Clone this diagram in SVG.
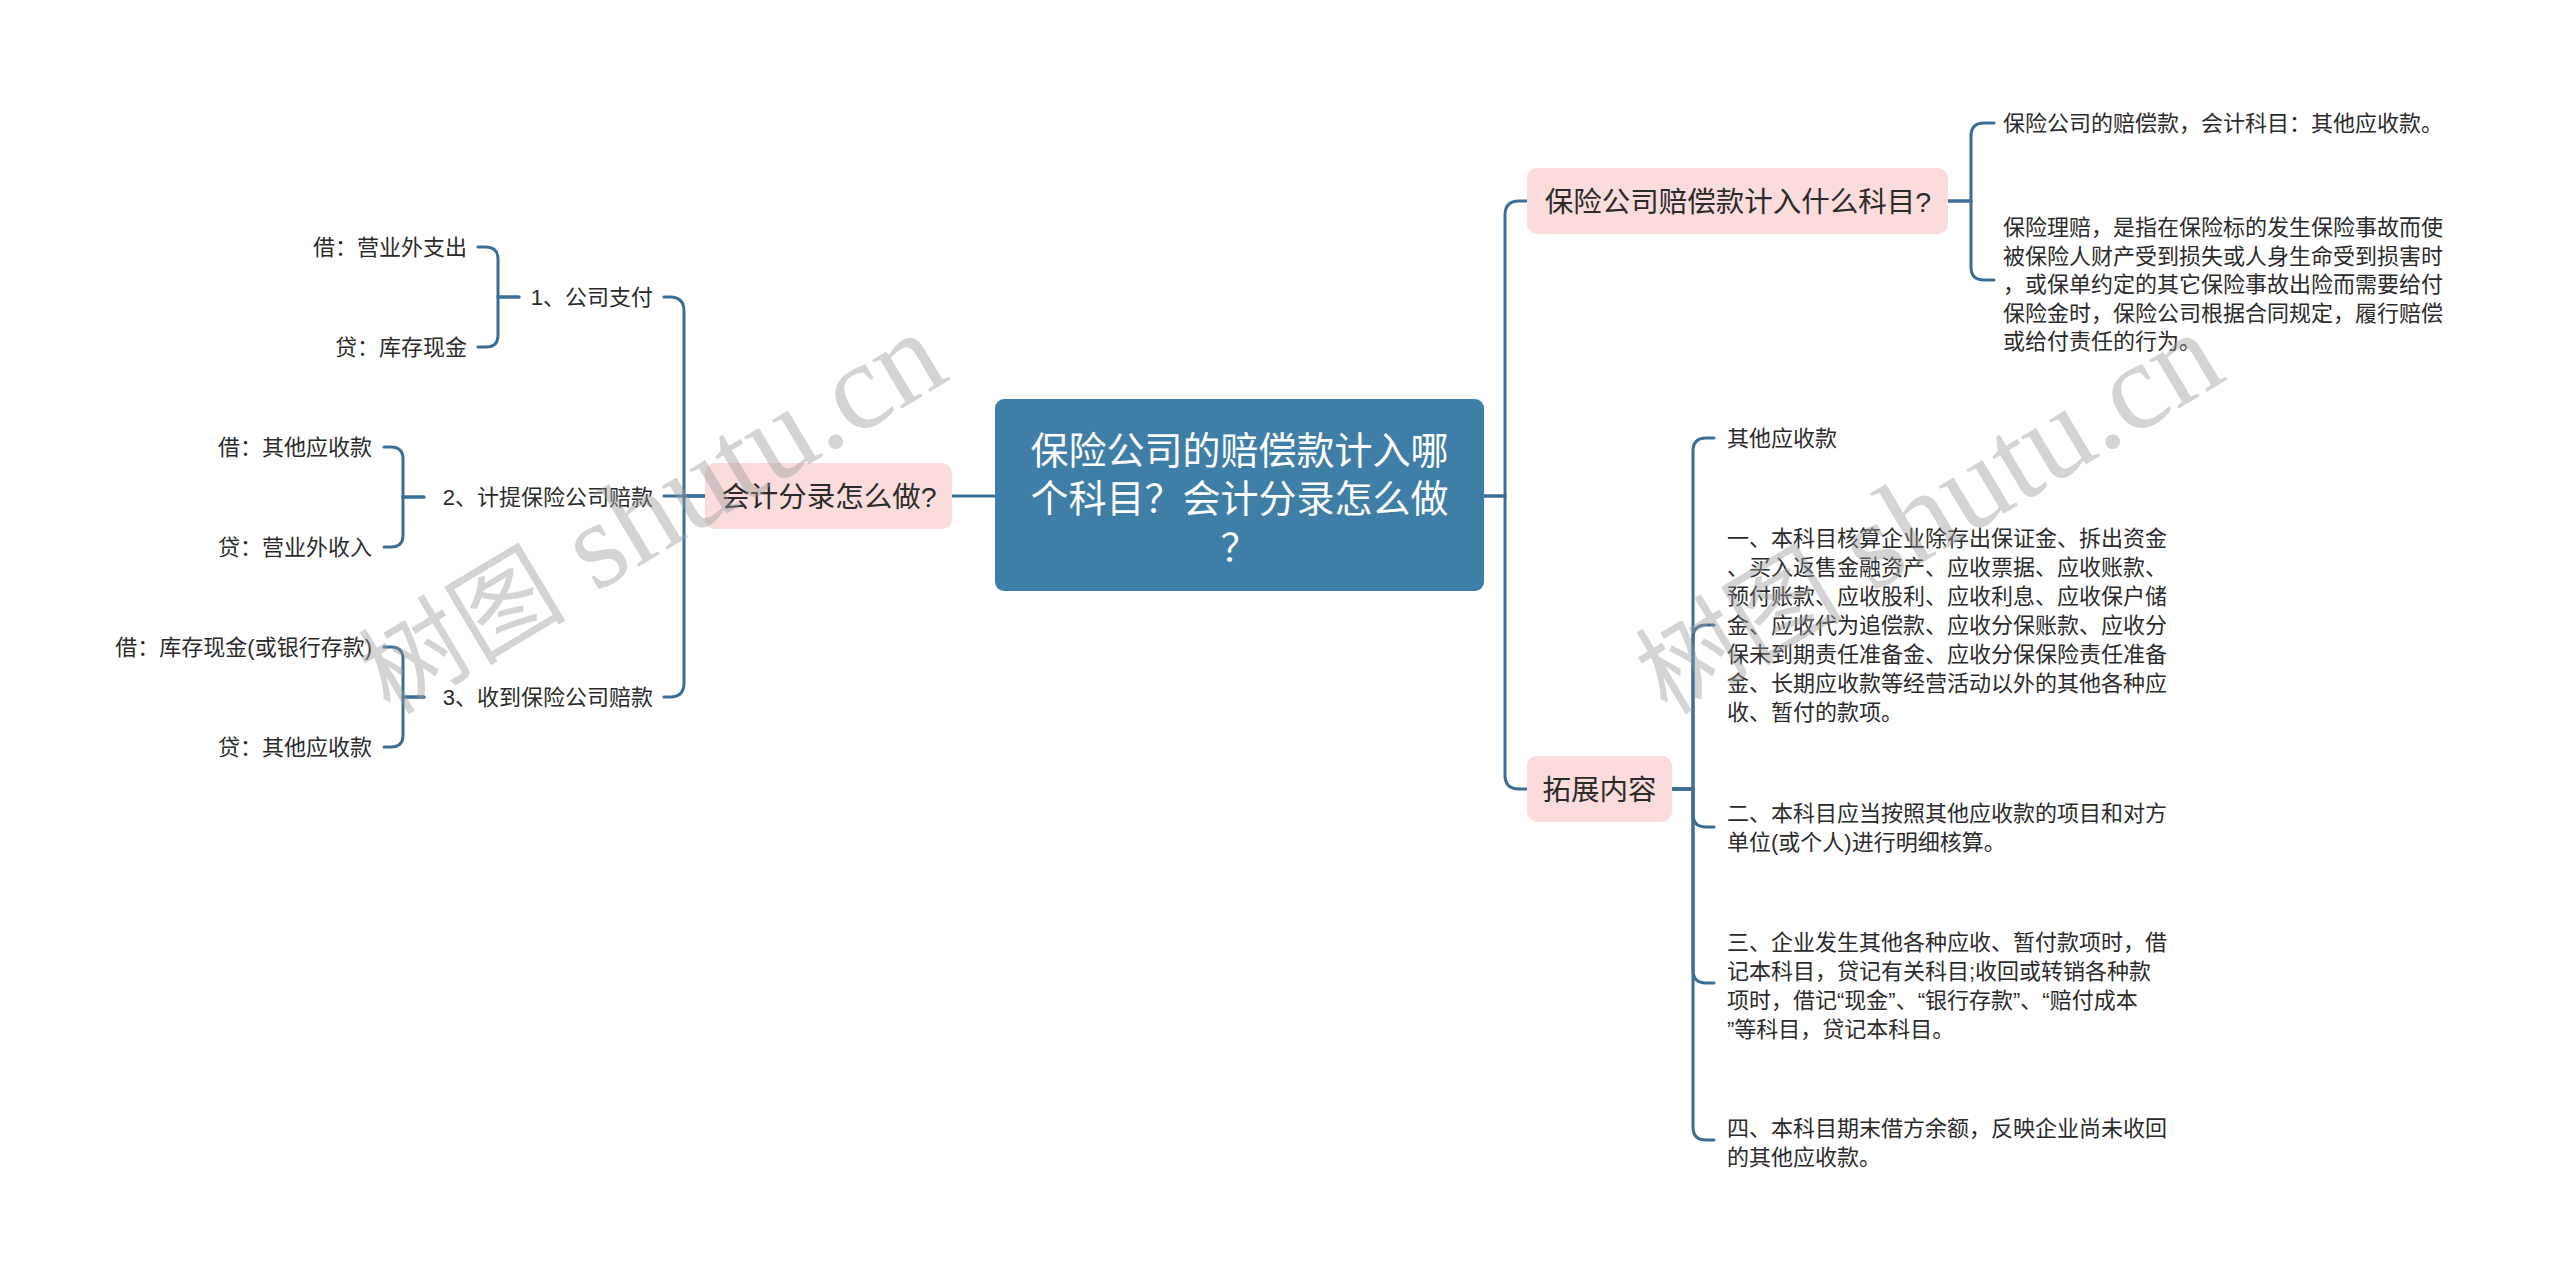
<svg xmlns="http://www.w3.org/2000/svg" width="2560" height="1279" viewBox="0 0 2560 1279">
<style>
.bg{fill:#ffffff}
.conn{fill:none;stroke:#3a6e96;stroke-width:3;stroke-linecap:round}
.root{fill:#3f7ea6}
.sub{fill:#fadcdc}
.t{font-family:"Liberation Sans","Noto Sans CJK SC",sans-serif;fill:#2b2b2b}
.leaf{font-size:22px}
.subt{font-size:28.5px;text-anchor:middle}
.roott{font-size:38px;fill:#ffffff;text-anchor:middle;font-family:"Noto Sans CJK SC",sans-serif}
.end{text-anchor:end}
.wm{font-family:"Liberation Serif","Noto Sans CJK SC",serif;font-size:124px;fill:#9a9a9a;opacity:0.42}
.wmc{font-size:104px}
</style>
<rect class="bg" x="0" y="0" width="2560" height="1279"/>
<g id="connectors">
<path class="conn" d="M994,496 H952"/>
<path class="conn" d="M705,496 H664"/>
<path class="conn" d="M705,496 H684 V311 Q684,297 670,297 H664"/>
<path class="conn" d="M705,496 H684 V683 Q684,697 670,697 H664"/>
<path class="conn" d="M519,297 H498 V259 Q498,247 486,247 H478"/>
<path class="conn" d="M519,297 H498 V335 Q498,347 486,347 H478"/>
<path class="conn" d="M424,497 H403 V459 Q403,447 391,447 H384"/>
<path class="conn" d="M424,497 H403 V535 Q403,547 391,547 H384"/>
<path class="conn" d="M424,697 H403 V659 Q403,647 391,647 H384"/>
<path class="conn" d="M424,697 H403 V735 Q403,747 391,747 H384"/>
<path class="conn" d="M1484,496 H1505 V215 Q1505,201 1519,201 H1527"/>
<path class="conn" d="M1484,496 H1505 V775 Q1505,789 1519,789 H1527"/>
<path class="conn" d="M1948,201 H1971 V136 Q1971,123 1984,123 H1994"/>
<path class="conn" d="M1948,201 H1971 V267 Q1971,280 1984,280 H1994"/>
<path class="conn" d="M1672,789 H1693 V451 Q1693,438 1706,438 H1714"/>
<path class="conn" d="M1672,789 H1693 V638 Q1693,625 1706,625 H1714"/>
<path class="conn" d="M1672,789 H1693 V814 Q1693,827 1706,827 H1714"/>
<path class="conn" d="M1672,789 H1693 V970 Q1693,983 1706,983 H1714"/>
<path class="conn" d="M1672,789 H1693 V1127 Q1693,1140 1706,1140 H1714"/>
</g>
<g id="root">
<rect class="root" x="995" y="399" width="489" height="192" rx="9"/>
<text class="roott" x="1239.5" y="464">保险公司的赔偿款计入哪</text>
<text class="roott" x="1239.5" y="512">个科目？会计分录怎么做</text>
<text class="roott" x="1239.5" y="561">？</text>
</g>
<g id="n-kuaiji">
<rect class="sub" x="705" y="463" width="247" height="66" rx="10"/>
<text class="t subt" x="829" y="507">会计分录怎么做?</text>
</g>
<g id="n-1">
<text class="t leaf end" x="653" y="305">1、公司支付</text>
</g>
<g id="n-1a"><text class="t leaf end" x="467" y="255">借：营业外支出</text></g>
<g id="n-1b"><text class="t leaf end" x="467" y="355">贷：库存现金</text></g>
<g id="n-2">
<text class="t leaf end" x="653" y="505">2、计提保险公司赔款</text>
</g>
<g id="n-2a"><text class="t leaf end" x="372" y="455">借：其他应收款</text></g>
<g id="n-2b"><text class="t leaf end" x="372" y="555">贷：营业外收入</text></g>
<g id="n-3">
<text class="t leaf end" x="653" y="705">3、收到保险公司赔款</text>
</g>
<g id="n-3a"><text class="t leaf end" x="372" y="655">借：库存现金(或银行存款)</text></g>
<g id="n-3b"><text class="t leaf end" x="372" y="755">贷：其他应收款</text></g>
<g id="n-kemu">
<rect class="sub" x="1527" y="168" width="421" height="66" rx="10"/>
<text class="t subt" x="1738" y="212">保险公司赔偿款计入什么科目?</text>
</g>
<g id="n-kemu-a"><text class="t leaf" x="2003" y="131">保险公司的赔偿款，会计科目：其他应收款。</text></g>
<g id="n-kemu-b">
<text class="t leaf" x="2003" y="235">保险理赔，是指在保险标的发生保险事故而使</text>
<text class="t leaf" x="2003" y="263.5">被保险人财产受到损失或人身生命受到损害时</text>
<text class="t leaf" x="2003" y="292">，或保单约定的其它保险事故出险而需要给付</text>
<text class="t leaf" x="2003" y="320.5">保险金时，保险公司根据合同规定，履行赔偿</text>
<text class="t leaf" x="2003" y="349">或给付责任的行为。</text>
</g>
<g id="n-tuozhan">
<rect class="sub" x="1527" y="756" width="145" height="66" rx="10"/>
<text class="t subt" x="1599.5" y="800">拓展内容</text>
</g>
<g id="n-tz-0"><text class="t leaf" x="1727" y="446">其他应收款</text></g>
<g id="n-tz-1">
<text class="t leaf" x="1727" y="546">一、本科目核算企业除存出保证金、拆出资金</text>
<text class="t leaf" x="1727" y="575">、买入返售金融资产、应收票据、应收账款、</text>
<text class="t leaf" x="1727" y="604">预付账款、应收股利、应收利息、应收保户储</text>
<text class="t leaf" x="1727" y="633">金、应收代为追偿款、应收分保账款、应收分</text>
<text class="t leaf" x="1727" y="662">保未到期责任准备金、应收分保保险责任准备</text>
<text class="t leaf" x="1727" y="691">金、长期应收款等经营活动以外的其他各种应</text>
<text class="t leaf" x="1727" y="720">收、暂付的款项。</text>
</g>
<g id="n-tz-2">
<text class="t leaf" x="1727" y="821">二、本科目应当按照其他应收款的项目和对方</text>
<text class="t leaf" x="1727" y="850">单位(或个人)进行明细核算。</text>
</g>
<g id="n-tz-3">
<text class="t leaf" x="1727" y="950">三、企业发生其他各种应收、暂付款项时，借</text>
<text class="t leaf" x="1727" y="979">记本科目，贷记有关科目;收回或转销各种款</text>
<text class="t leaf" x="1727" y="1008">项时，借记“现金”、“银行存款”、“赔付成本</text>
<text class="t leaf" x="1727" y="1037">”等科目，贷记本科目。</text>
</g>
<g id="n-tz-4">
<text class="t leaf" x="1727" y="1136">四、本科目期末借方余额，反映企业尚未收回</text>
<text class="t leaf" x="1727" y="1165">的其他应收款。</text>
</g>
<g id="watermark">
<text class="wm" transform="translate(390,716) rotate(-31)"><tspan class="wmc">树图</tspan> shutu.cn</text>
<text class="wm" transform="translate(1667,716) rotate(-31)"><tspan class="wmc">树图</tspan> shutu.cn</text>
</g>
</svg>
